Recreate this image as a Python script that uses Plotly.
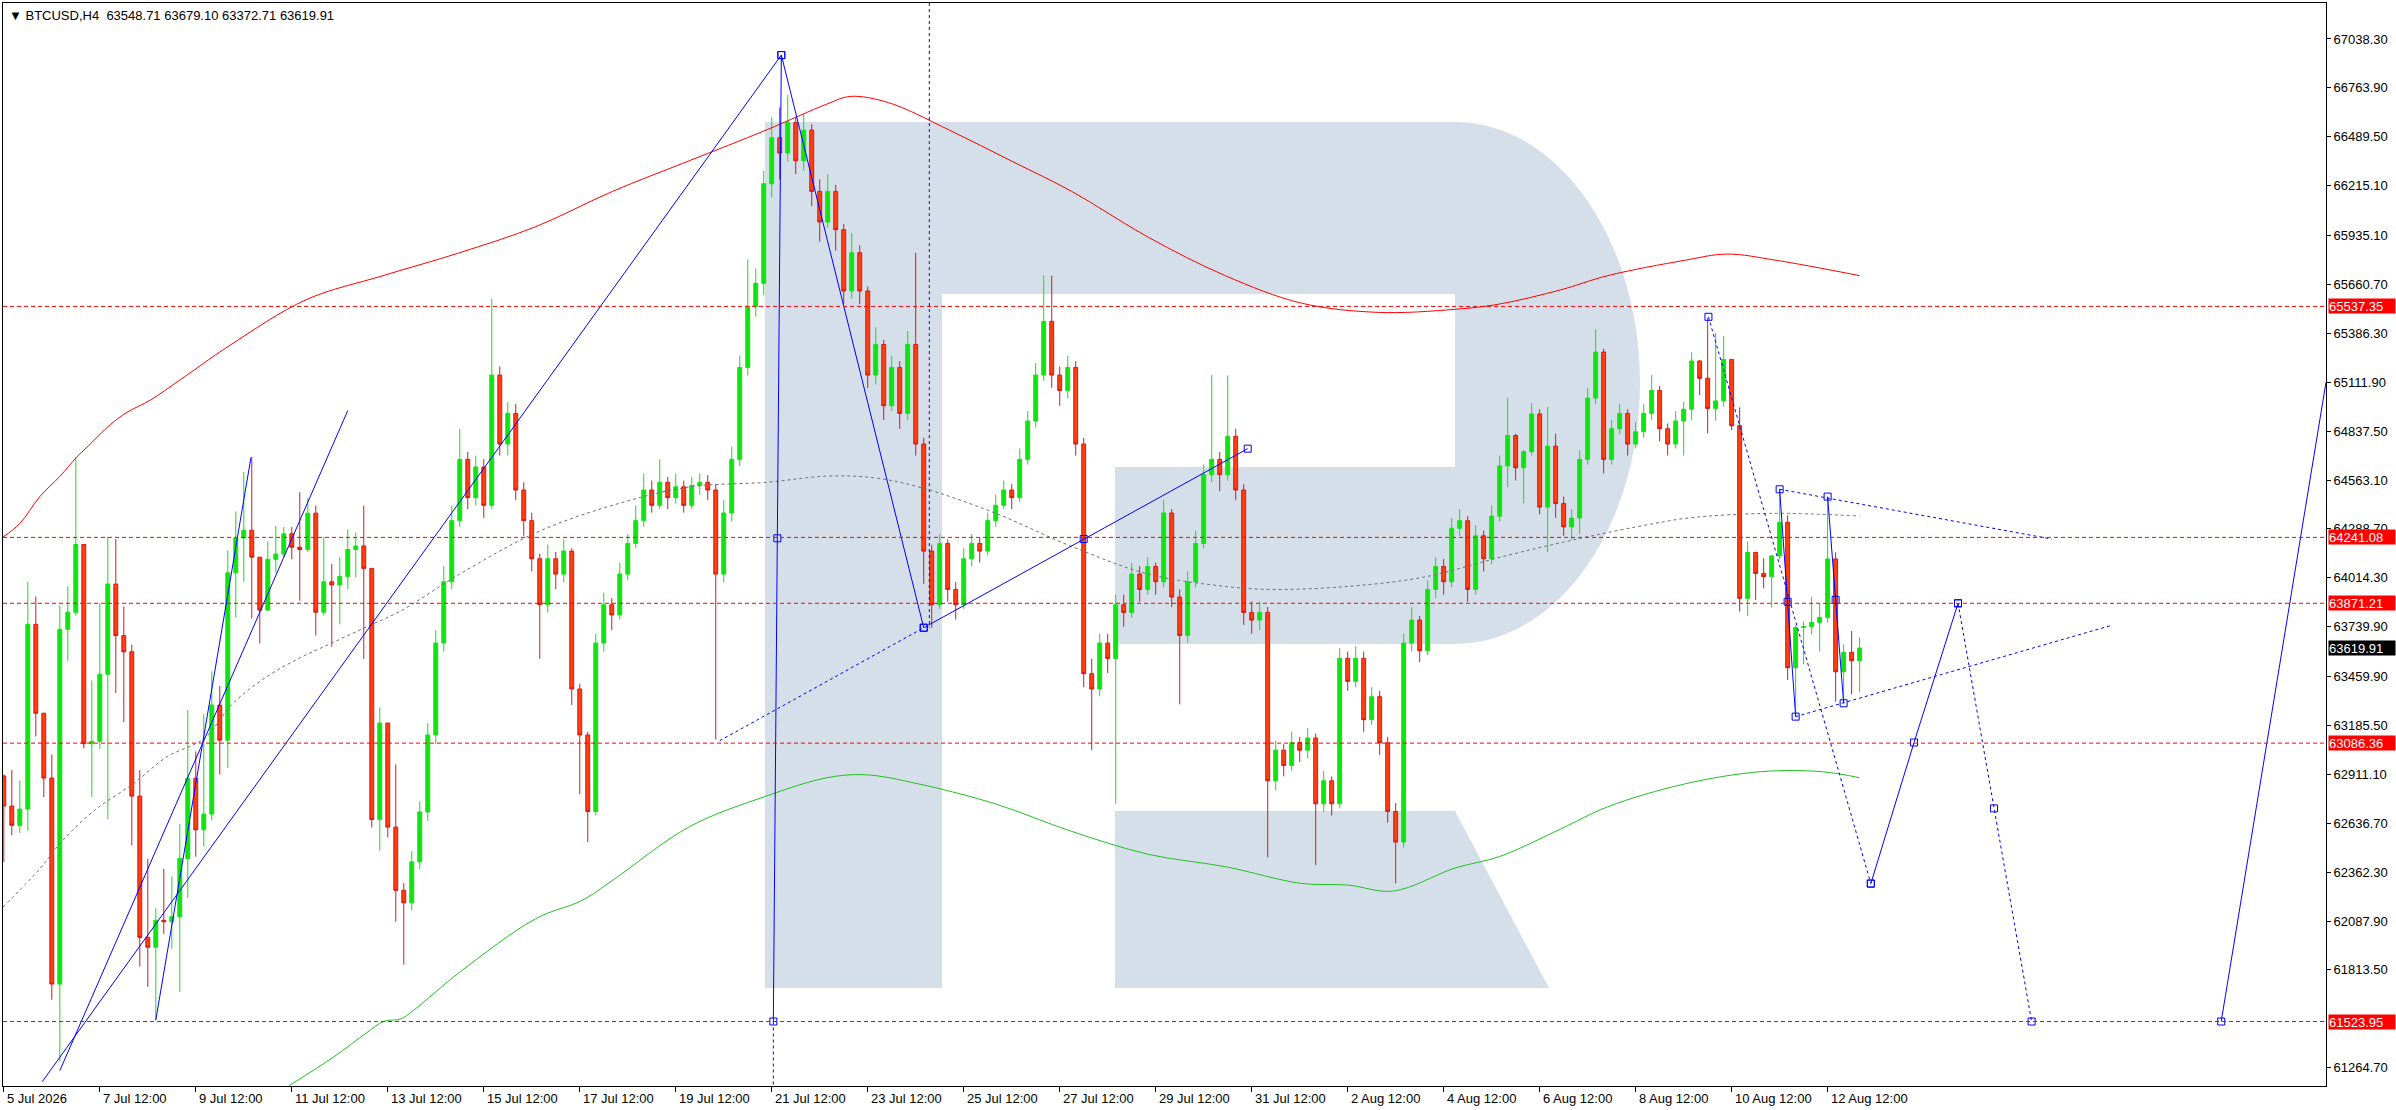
import plotly.graph_objects as go

# H4 bars, index 0 = 7 Jul 12:00 (one bar = 4 hours)
first_bar = -12
first_open = 62902

closes = [
    62733, 62625, 62716, 63753, 63254, 62890, 61734, 63725, 63821, 64201, 63083, 63096,
    63473, 63979, 63690, 63599, 62789, 61996, 61941, 62092, 62084, 62112,
    62439, 62889, 62600, 62688, 63300, 63103, 64042, 64238, 64281, 64130,
    63833, 64118, 64148, 64261, 64186, 64173, 64377, 63821, 63992, 63974,
    64022, 64173, 64193, 64067, 62658, 63199, 62615, 62260,
    62190, 62420, 62700, 63132, 63648, 63992, 64335, 64679, 64464, 64636,
    64421, 65152, 64765, 64937, 64507, 64335, 64121, 63863, 64121, 64035,
    64164, 63390, 63132, 62703, 63648, 63863, 63806, 64035, 64207, 64335,
    64507, 64421, 64550, 64464, 64525, 64421, 64533, 64550, 64507, 64035,
    64378, 64679, 65195, 65538, 65667, 66226, 66484, 66398, 66570, 66355,
    66527, 66183, 66011, 66183, 65968, 65624, 65839, 65624, 65152, 65324,
    64980, 65195, 64937, 65324, 64765, 64164, 63863, 64207, 63949, 63863,
    64121, 64207, 64164, 64335, 64421, 64507, 64464, 64679, 64894, 65152,
    65453, 65152, 65066, 65195, 64765, 63476, 63390, 63648, 63562, 63863,
    63820, 64035, 63949, 64078, 63992, 64378, 63906, 63691, 63992, 64207,
    64593, 64679, 64593, 64808, 64507, 63820, 63777, 63820, 62875, 63047,
    62961, 63089, 63047, 63115, 62746, 62875, 62746, 63562, 63433, 63562,
    63218, 63347, 63089, 62703, 62531, 63648, 63777, 63605, 63949, 64078,
    63992, 64292, 64335, 63949, 64250, 64121, 64360, 64642, 64813, 64632,
    64722, 64934, 64411, 64753, 64431, 64300, 64350, 64679, 65023, 65281,
    64679, 64851, 64937, 64765, 64834, 64937, 65066, 64851, 64765, 64894,
    64960,
    65231, 65134, 64965, 65007, 65240, 64868, 63899, 64157, 64039, 64021,
    64137, 64326, 63510, 63736, 63740, 63764, 63792, 64120, 63487, 63596,
    63548.71, 63619.91,
]

highs = [
    62910, 62935, 62877, 63992, 63909, 63257, 63023, 63859, 63967, 64692, 64201, 63438,
    63871, 64244, 64231, 63853, 63639, 62935, 62436, 62160, 62381, 62338,
    62633, 63272, 63040, 63249, 63488, 63408, 64168, 64387, 64608, 64692,
    64130, 64218, 64306, 64299, 64299, 64495, 64462, 64420, 64244, 64093,
    64130, 64286, 64269, 64420, 64067, 63287, 63199, 62967,
    62300, 62480, 62760, 63200, 63720, 64080, 64420, 64850, 64720, 64700,
    64680, 65581, 65200, 65000, 64990, 64550, 64380, 64150, 64200, 64160,
    64230, 64180, 63420, 63150, 63700, 63930, 63900, 64100, 64260, 64420,
    64600, 64560, 64680, 64580, 64600, 64560, 64580, 64600, 64590, 64540,
    64450, 64750, 65260, 65800, 65750, 66300, 66600, 66655, 66724, 66600,
    66620, 66560, 66250, 66280, 66220, 66000, 65950, 65880, 65650, 65420,
    65350, 65260, 65230, 65400, 65839, 64800, 64200, 64260, 64230, 63990,
    64180, 64260, 64240, 64380, 64480, 64560, 64540, 64740, 64950, 65220,
    65710, 65710, 65200, 65260, 65230, 64800, 63560, 63700, 63700, 63920,
    63920, 64100, 64080, 64130, 64100, 64450, 64400, 63950, 64050, 64280,
    64650, 65152, 64720, 65150, 64850, 64540, 63880, 63880, 63850, 63100,
    63080, 63150, 63120, 63170, 63140, 62930, 62900, 63620, 63600, 63630,
    63600, 63400, 63380, 63120, 62750, 63700, 63850, 63800, 64000, 64130,
    64120, 64350, 64400, 64360, 64310, 64280, 64420, 64700, 65024, 64823,
    64732, 64994, 64960, 64974, 64823, 64470, 64400, 64730, 65080, 65410,
    65300, 64900, 64990, 64960, 64890, 64990, 65152, 65090, 64880, 64950,
    65000,
    65280, 65237, 65471, 65390, 65371, 65240, 64971, 64217, 64157, 64124,
    64142, 64511, 64365, 63749, 63768, 63908, 63871, 64466, 64157, 63640,
    63716, 63679.10,
]

lows = [
    62419, 62570, 62582, 62595, 63124, 62784, 61646, 61299, 63546, 63803, 63056, 62784,
    63053, 62658, 63368, 63204, 62512, 61833, 61719, 61530, 62016, 61933,
    61689, 62218, 62449, 62507, 62653, 62910, 62947, 63791, 63992, 63786,
    63645, 63828, 64042, 64130, 64118, 63886, 64160, 63690, 63803, 63627,
    63753, 63949, 64017, 63559, 62613, 62482, 62557, 62084,
    61843, 62150, 62380, 62650, 63080, 63600, 63950, 64300, 64400, 64420,
    64350, 64400, 64700, 64700, 64450, 64250, 64050, 63560, 63820, 63950,
    63990, 63300, 62800, 62531, 62680, 63600, 63720, 63780, 64000, 64180,
    64300, 64380, 64400, 64400, 64430, 64380, 64400, 64480, 64450, 63107,
    63990, 64330, 64640, 65150, 65480, 65600, 66150, 66250, 66350, 66280,
    66300, 66100, 65900, 65980, 65850, 65550, 65580, 65550, 65080, 65100,
    64900, 64950, 64850, 64900, 64700, 63980, 63734, 63840, 63880, 63780,
    63840, 64080, 64100, 64140, 64300, 64400, 64400, 64440, 64650, 64860,
    65120, 65080, 64980, 65020, 64700, 63400, 63047, 63350, 63480, 62746,
    63740, 63790, 63880, 63920, 63920, 63960, 63850, 63304, 63650, 63960,
    64180, 64550, 64500, 64560, 64450, 63750, 63700, 63720, 62445, 62820,
    62900, 62930, 62980, 63000, 62402, 62700, 62680, 62720, 63380, 63400,
    63150, 63190, 63020, 62640, 62299, 62500, 63600, 63540, 63580, 63900,
    63920, 63960, 64250, 63880, 63920, 64050, 64090, 64330, 64521, 64561,
    64431, 64700, 64371, 64159, 64350, 64250, 64230, 64260, 64650, 64990,
    64600, 64650, 64820, 64700, 64740, 64800, 64900, 64780, 64700, 64740,
    64700,
    64900, 65040, 64825, 64896, 64975, 64844, 63824, 63800, 63890, 63955,
    63847, 64118, 63441, 63235, 63529, 63697, 63600, 63764, 63319, 63328,
    63360, 63372.71,
]

# moving averages (bar, price)
red_ma_x = [-12.1, -10, -7.5, -5, -2.9, -1.6, 1.3, 3.4, 6.3, 10, 16.3, 25.8, 35.4, 45,
            54.5, 64.1, 73.7, 83.3, 90.9, 93.8, 98.6, 106.2, 113.9, 121.5, 131.1,
            140.7, 150.2, 159.8, 169.4, 175, 182.6, 188.5, 198.1, 203.4, 209.6, 220]
red_ma_y = [64243, 64319, 64470, 64583, 64691, 64747, 64873, 64943, 65011, 65124,
            65320, 65575, 65710, 65839, 65985, 66183, 66355, 66527, 66673, 66716,
            66681, 66527, 66355, 66183, 65925, 65710, 65556, 65504, 65521, 65551,
            65630, 65710, 65796, 65831, 65796, 65710]
green_ma_x = [23.6, 29.2, 33.4, 35.5, 37.6, 39.2, 45, 54.5, 60.3, 64.1, 73.7, 83.3,
              90.9, 95.7, 102.4, 111.9, 121.5, 131.1, 140.7, 150.2, 156, 161.7, 169.4,
              175, 182.6, 188.5, 198.1, 207.6, 215.3, 220]
green_ma_y = [61162, 61324, 61462, 61525, 61538, 61586, 61801, 62101, 62204, 62316,
              62617, 62789, 62892, 62909, 62857, 62746, 62591, 62462, 62393, 62299,
              62290, 62256, 62385, 62450, 62604, 62729, 62857, 62926, 62926, 62892]
gray_ma_x = [-12.1, -7.5, -4.8, -0.7, 4.2, 8.4, 13, 16.7, 21, 25, 29.2, 33.4, 37.6, 45,
             54.5, 64.1, 73.7, 83.3, 90.9, 96.7, 102.4, 111.9, 121.5, 131.1, 140.7,
             146.4, 156, 165.5, 175.1, 184.7, 194.2, 199, 209, 220]
gray_ma_y = [62167, 62381, 62532, 62708, 62859, 63010, 63111, 63312, 63463, 63564,
             63652, 63740, 63828, 64035, 64267, 64421, 64524, 64550, 64585, 64576,
             64524, 64378, 64190, 64035, 63966, 63949, 63966, 64018, 64130, 64232,
             64318, 64352, 64376, 64361]

# horizontal levels and last price
levels = [65537.35, 64241.08, 63871.21, 63086.36, 61523.95]
last_price = 63619.91

# analyst drawings (bar, price)
trend_steep_x, trend_steep_y = [7.0, 18.9], [61532, 64690]
trend_mid_x, trend_mid_y = [-5.0, 31.0], [61248, 64953]
trend_long_x, trend_long_y = [-7.2, 85.2], [61186, 66948]
drop_x, drop_y = [85.2, 84.7, 84.2], [66948, 64236, 61524]
drop_tail_x, drop_tail_y = [84.2, 84.2], [61524, 61162]
wave_x, wave_y = [85.2, 103.0], [66948, 63734]
channel_x, channel_y = [103.0, 123.0, 143.5], [63734, 64232, 64739]
channel_back_x, channel_back_y = [77.5, 103.0], [63100, 63734]
time_mark_x, time_mark_y = [103.7, 103.7], [67240, 63734]
fall_x, fall_y = [201.1, 221.4], [65479, 62298]
leg1_x, leg1_y = [210, 211, 212], [64511, 63880, 63235]
leg2_x, leg2_y = [216, 217, 218], [64470, 63890, 63310]
tri_upper_x, tri_upper_y = [210, 244], [64511, 64232]
tri_lower_x, tri_lower_y = [212, 251.3], [63235, 63745]
fc_up_x, fc_up_y = [221.4, 226.8, 232.3], [62298, 63090, 63871]
fc_down_x, fc_down_y = [232.3, 236.8, 241.5], [63871, 62720, 61524]
fc_final_x, fc_final_y = [265.2, 278.3], [61524, 65112]

# axis ticks
x_tick_bars = [-12, 0, 12, 24, 36, 48, 60, 72, 84, 96, 108, 120, 132, 144, 156, 168,
               180, 192, 204, 216]
x_tick_labels = ['5 Jul 2026', '7 Jul 12:00', '9 Jul 12:00', '11 Jul 12:00',
                 '13 Jul 12:00', '15 Jul 12:00', '17 Jul 12:00', '19 Jul 12:00',
                 '21 Jul 12:00', '23 Jul 12:00', '25 Jul 12:00', '27 Jul 12:00',
                 '29 Jul 12:00', '31 Jul 12:00', '2 Aug 12:00', '4 Aug 12:00',
                 '6 Aug 12:00', '8 Aug 12:00', '10 Aug 12:00', '12 Aug 12:00']
y_ticks = [67038.30, 66763.90, 66489.50, 66215.10, 65935.10, 65660.70, 65386.30,
           65111.90, 64837.50, 64563.10, 64288.70, 64014.30, 63739.90, 63459.90,
           63185.50, 62911.10, 62636.70, 62362.30, 62087.90, 61813.50, 61264.70]

bars = list(range(first_bar, first_bar + len(closes)))
opens = [first_open] + closes[:-1]
highs = [max(h, o, c) for h, o, c in zip(highs, opens, closes)]
lows = [min(l, o, c) for l, o, c in zip(lows, opens, closes)]

BLUE = '#0000ff'
DOT = '3px,3px'

fig = go.Figure()

fig.add_trace(go.Candlestick(
    x=bars, open=opens, high=highs, low=lows, close=closes,
    increasing=dict(fillcolor='#11e311', line=dict(color='#11e311', width=1)),
    decreasing=dict(fillcolor='#ff3f0f', line=dict(color='#d41a1a', width=1)),
    whiskerwidth=0, hoverinfo='skip'))

fig.add_trace(go.Scatter(x=red_ma_x, y=red_ma_y, mode='lines',
                         line=dict(color='#ff0000', width=1, shape='spline')))
fig.add_trace(go.Scatter(x=green_ma_x, y=green_ma_y, mode='lines',
                         line=dict(color='#22c022', width=1, shape='spline')))
fig.add_trace(go.Scatter(x=gray_ma_x, y=gray_ma_y, mode='lines',
                         line=dict(color='#707070', width=1, dash=DOT, shape='spline')))

drawings = [
    (trend_steep_x, trend_steep_y, 'solid', False),
    (trend_mid_x, trend_mid_y, 'solid', False),
    (trend_long_x, trend_long_y, 'solid', False),
    (drop_x, drop_y, 'solid', True),
    (drop_tail_x, drop_tail_y, DOT, False),
    (wave_x, wave_y, 'solid', True),
    (channel_x, channel_y, 'solid', True),
    (channel_back_x, channel_back_y, DOT, False),
    (time_mark_x, time_mark_y, DOT, False),
    (fall_x, fall_y, DOT, True),
    (leg1_x, leg1_y, 'solid', True),
    (leg2_x, leg2_y, 'solid', True),
    (tri_upper_x, tri_upper_y, DOT, False),
    (tri_lower_x, tri_lower_y, DOT, False),
    (fc_up_x, fc_up_y, 'solid', True),
    (fc_down_x, fc_down_y, DOT, True),
    (fc_final_x, fc_final_y, 'solid', False),
]
for xs, ys, dash, marks in drawings:
    fig.add_trace(go.Scatter(
        x=xs, y=ys, mode='lines+markers' if marks else 'lines',
        line=dict(color=BLUE, width=1, dash=dash),
        marker=dict(symbol='square-open', size=7, color=BLUE, line=dict(width=1)),
        hoverinfo='skip'))
# start marker of the last forecast leg
fig.add_trace(go.Scatter(x=fc_final_x[:1], y=fc_final_y[:1], mode='markers',
                         marker=dict(symbol='square-open', size=7, color=BLUE,
                                     line=dict(width=1)), hoverinfo='skip'))

# plot area in screen pixels, used to place the watermark
PL, PT, PW, PH = 3, 3, 2323, 1083


def to_paper(x, y):
    return '%.5f,%.5f' % ((x - PL) / PW, 1 - (y - PT) / PH)


def path(points):
    out = []
    for cmd, pts in points:
        out.append(cmd + ' ' + ' '.join(to_paper(x, y) for x, y in pts))
    return ' '.join(out) + ' Z'


k = 0.5523
cx, cy, a, b = 1455, 383, 185, 261
r_body = path([
    ('M', [(765, 122)]), ('L', [(cx, 122)]),
    ('C', [(cx + k * a, cy - b), (cx + a, cy - k * b), (cx + a, cy)]),
    ('C', [(cx + a, cy + k * b), (cx + k * a, cy + b), (cx, cy + b)]),
    ('L', [(1115, cy + b)]), ('L', [(1115, 467)]), ('L', [(cx, 467)]),
    ('L', [(cx, 294)]), ('L', [(942, 294)]), ('L', [(942, 988)]), ('L', [(765, 988)]),
])
r_leg = path([
    ('M', [(1115, 811)]), ('L', [(1455, 811)]), ('L', [(1549, 988)]), ('L', [(1115, 988)]),
])

shapes = []
for p in (r_body, r_leg):
    shapes.append(dict(type='path', path=p, xref='paper', yref='paper',
                       fillcolor='#d5dfea', line=dict(width=0), layer='below'))
for lv in levels:
    shapes.append(dict(type='line', xref='paper', x0=0, x1=1, yref='y', y0=lv, y1=lv,
                       line=dict(color='#ff0000', width=1, dash='4px,3px')))

annotations = []
for bar, txt in zip(x_tick_bars, x_tick_labels):
    annotations.append(dict(x=bar, y=0, xref='x', yref='paper', xanchor='left',
                            yanchor='top', yshift=-3, xshift=1, text=txt,
                            showarrow=False, font=dict(size=13)))
for lv in levels:
    annotations.append(dict(x=1, y=lv, xref='paper', yref='y', xanchor='left',
                            xshift=2, text='%.2f' % lv, showarrow=False, width=66,
                            height=14, align='left', valign='middle',
                            bgcolor='#ff0000', borderpad=0,
                            font=dict(size=13, color='white')))
annotations.append(dict(x=1, y=last_price, xref='paper', yref='y', xanchor='left',
                        xshift=2, text='%.2f' % last_price, showarrow=False, width=66,
                        height=14, align='left', valign='middle',
                        bgcolor='#000000', borderpad=0,
                        font=dict(size=13, color='white')))
annotations.append(dict(x=0, y=1, xref='paper', yref='paper', xanchor='left',
                        yanchor='top', xshift=4, yshift=-3,
                        text='\u25bc BTCUSD,H4  63548.71 63679.10 63372.71 63619.91',
                        showarrow=False, font=dict(size=13)))

fig.update_layout(
    width=2396, height=1110, autosize=False,
    margin=dict(l=PL, r=2396 - PL - PW, t=PT, b=1110 - PT - PH),
    plot_bgcolor='white', paper_bgcolor='white', showlegend=False,
    font=dict(family='Liberation Sans, DejaVu Sans, sans-serif', size=13, color='black'),
    shapes=shapes, annotations=annotations, hovermode=False,
)
fig.update_xaxes(range=[-12.1, 278.3], showgrid=False, zeroline=False, showline=True,
                 linecolor='black', linewidth=1, mirror=True, ticks='outside', ticklen=5,
                 tickcolor='black', tickvals=x_tick_bars, showticklabels=False,
                 rangeslider=dict(visible=False))
fig.update_yaxes(range=[61162, 67240.3], side='right', showgrid=False, zeroline=False,
                 showline=True, linecolor='black', linewidth=1, mirror=True,
                 ticks='outside', ticklen=4, tickcolor='black', tickmode='array',
                 tickvals=y_ticks, ticktext=['%.2f' % v for v in y_ticks])

# page has a default 8px body margin; remove it so the figure fills the window
fig.write_html("out.html", config={'displayModeBar': False},
               post_script="document.body.style.margin='0';")
